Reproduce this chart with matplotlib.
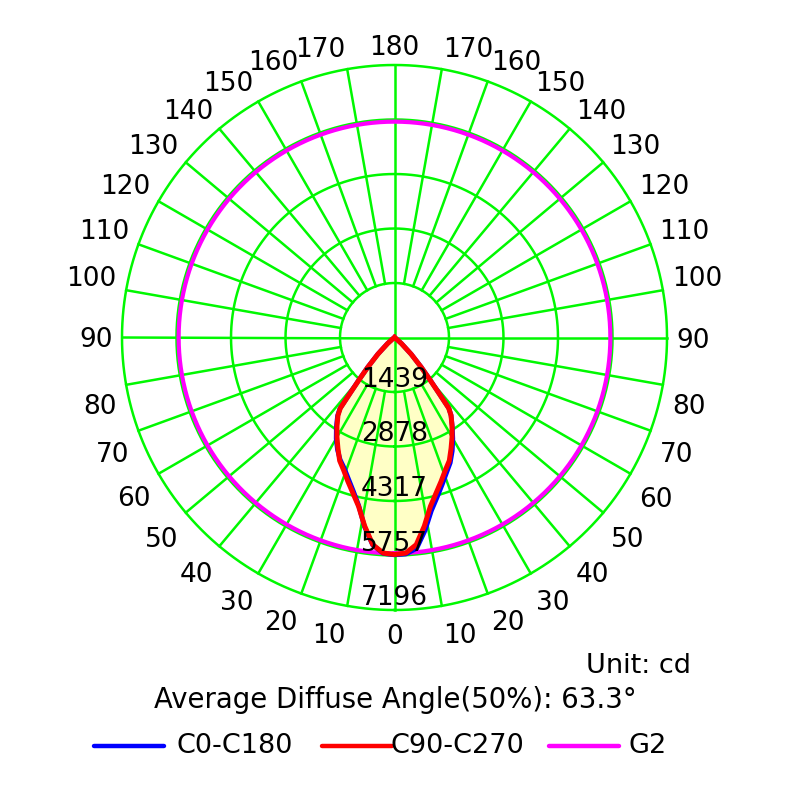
import numpy as np
import matplotlib
matplotlib.use('Agg')
import matplotlib.pyplot as plt
from matplotlib.lines import Line2D
from matplotlib.transforms import offset_copy

# ---------------- data ----------------
# angles measured from nadir (0 = straight down), degrees
angles = [0, 3, 6, 9, 12, 15, 18, 21, 24, 27, 30, 33, 36, 37.5, 38.5, 40, 42, 45, 49, 55, 60, 90, 180]
# intensity (cd)
c0_c180_right = [5740, 5725, 5600, 5160, 4680, 4360, 4080, 3830, 3620, 3360, 3080, 2800, 2540,
                 2360, 1910, 1460, 1055, 625, 245, 42, 0, 0, 0]
c0_c180_left = [5740, 5710, 5510, 5060, 4540, 4200, 3930, 3700, 3530, 3320, 3080, 2820, 2560,
                2370, 1910, 1460, 1055, 625, 245, 42, 0, 0, 0]
c90_c270 = [5730, 5700, 5500, 5040, 4560, 4250, 3990, 3750, 3560, 3290, 3040, 2790, 2540,
            2350, 1900, 1450, 1050, 620, 240, 40, 0, 0, 0]
g2_value = 5700

ring_values = [1439, 2878, 4317, 5757, 7196]
ring_labels = ['1439', '2878', '4317', '5757', '7196']
angle_ticks = list(range(0, 181, 10))

unit_text = 'Unit: cd'
avg_text = 'Average Diffuse Angle(50%): 63.3°'
legend_labels = ['C0-C180', 'C90-C270', 'G2']
legend_colors = ['#0000FF', '#FF0000', '#FF00FF']

# ---------------- layout ----------------
W = H = 800
cx, cy = 394.5, 337.5
R = 272.5
GREEN = '#00F800'
TXT = '#000000'

fig = plt.figure(figsize=(8, 8), dpi=100)
ax = fig.add_axes([(cx - R) / W, (H - cy - R) / H, 2 * R / W, 2 * R / H], projection='polar')
ax.set_theta_zero_location('S')
ax.set_theta_direction(1)
rmax = ring_values[-1]
ax.set_ylim(0, rmax)
ax.axis('off')


def px2r(p):
    return p / R * rmax


# curves
th_half = np.deg2rad(angles)
th_full = np.concatenate([-th_half[::-1], th_half])
blue_r = np.concatenate([np.array(c0_c180_left)[::-1], np.array(c0_c180_right)])
red_r = np.concatenate([np.array(c90_c270)[::-1], np.array(c90_c270)])

ax.fill(th_full, blue_r, color='#FFFFC6', lw=0, zorder=1)

# grid
tt = np.linspace(0, 2 * np.pi, 721)
for rv in ring_values:
    ax.plot(tt, np.full_like(tt, rv), color=GREEN, lw=1.8, zorder=2, clip_on=False)
for a in range(0, 360, 10):
    r0 = 0 if a % 90 == 0 else ring_values[0]
    ax.plot([np.deg2rad(a)] * 2, [r0, rmax], color=GREEN, lw=1.8, zorder=2, clip_on=False)

# G2
ax.plot(tt, np.full_like(tt, g2_value), color='#FF00FF', lw=3.0, zorder=3, clip_on=False)
# C0-C180 and C90-C270
ax.plot(th_full, blue_r, color='#0000FF', lw=3.4, zorder=4, clip_on=False)
ax.plot(th_full, red_r, color='#FF0000', lw=3.6, zorder=5, clip_on=False)

FS = 19
# ring labels
tr = offset_copy(ax.transData, fig=fig, x=0, y=5, units='dots')
for rv, lab in zip(ring_values, ring_labels):
    ax.text(0, rv, lab, ha='center', va='baseline', fontsize=FS, color=TXT,
            transform=tr, zorder=10)

# angle labels
RL = px2r(282)
for phi in angle_ticks:
    sides = [-1] if phi in (0, 180) else [-1, 1]
    for s in sides:
        side_ha = 'right' if s < 0 else 'left'
        if phi == 0:
            ha, va, dy = 'center', 'top', -5
        elif phi == 180:
            ha, va, dy = 'center', 'baseline', 0.5
        elif phi == 90:
            ha, va, dy = side_ha, 'baseline', -10
        elif phi < 90:
            ha, va, dy = side_ha, 'top', -8
        else:
            ha, va, dy = side_ha, 'baseline', 2.5
        t = offset_copy(ax.transData, fig=fig, x=0, y=dy, units='dots')
        ax.text(s * np.deg2rad(phi), RL, str(phi), ha=ha, va=va, fontsize=FS,
                color=TXT, clip_on=False, transform=t)

# bottom texts
fig.text(691 / W, 1 - 666 / H, unit_text, ha='right', va='center', fontsize=19.5, color=TXT)
fig.text(395 / W, 1 - 700 / H, avg_text, ha='center', va='center', fontsize=19.8, color=TXT)

# legend
ly = 1 - 746 / H
line_x = [(94, 164), (322, 392), (549, 619)]
text_x = [176, 391, 629]
for (x0, x1), tx, lab, col in zip(line_x, text_x, legend_labels, legend_colors):
    fig.add_artist(Line2D([x0 / W, x1 / W], [ly, ly], transform=fig.transFigure, color=col, lw=3.2,
                          solid_capstyle='round'))
    fig.text(tx / W, ly, lab, ha='left', va='center', fontsize=19.5, color=TXT)

fig.savefig('out.png', dpi=100, facecolor='white')
